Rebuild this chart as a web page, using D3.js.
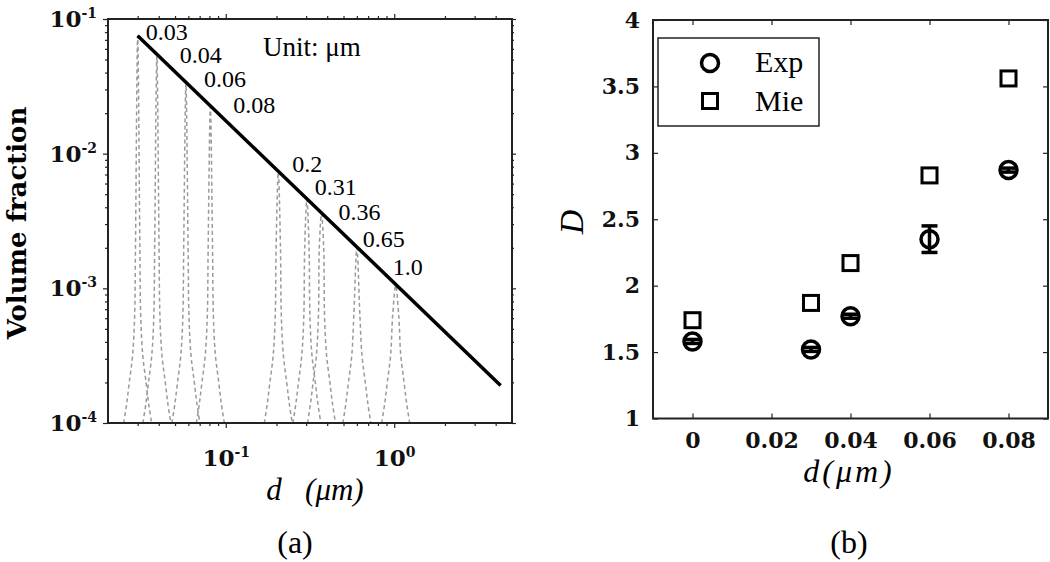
<!DOCTYPE html>
<html><head><meta charset="utf-8">
<script src="https://cdn.jsdelivr.net/npm/d3@7"></script>
<style>body{margin:0;background:#fff}svg{display:block}</style>
</head><body>
<svg id="c" width="1050" height="562"></svg>
<script>
// ---------- data: panel (a)
const peakCenters = [0.030, 0.039, 0.058, 0.081, 0.205, 0.303, 0.37, 0.60, 1.02];
const peakValues  = [0.075, 0.053, 0.033, 0.0223, 0.0073, 0.0046, 0.0036, 0.0020, 0.00105];
const peakLabels  = ["0.03","0.04","0.06","0.08","0.2","0.31","0.36","0.65","1.0"];
const profileValues = [1e-4, 1.4e-4, 2e-4, 3.2e-4, 6.3e-4, 2e-3, 1e-1];
const profileHalfWidths = [0.083, 0.065, 0.05, 0.03, 0.018, 0.013, 0.009]; // in decades of d
const lineD = [0.03, 4.28];
const lineV = [0.075, 0.00019];
const xMajorA = [0.1, 1];
const xMajorExpA = ["-1", "0"];
const yMajorA = [1e-4, 1e-3, 1e-2, 1e-1];
const yMajorExpA = ["-4", "-3", "-2", "-1"];
// ---------- data: panel (b)
const dB = [0, 0.03, 0.04, 0.06, 0.08];
const expB = [1.58, 1.52, 1.77, 2.35, 2.87];
const expErrB = [0.015, 0.015, 0.015, 0.10, 0.015];
const mieB = [1.74, 1.87, 2.17, 2.83, 3.56];
const xTicksB = [0, 0.02, 0.04, 0.06, 0.08];
const xTickLabelsB = ["0", "0.02", "0.04", "0.06", "0.08"];
const yTicksB = [1, 1.5, 2, 2.5, 3, 3.5, 4];
const yTickLabelsB = ["1", "1.5", "2", "2.5", "3", "3.5", "4"];
const legendNames = ["Exp", "Mie"];

// ---------- layout (label nudges in px, relative to peak top)
const labelNudge = [[8,4],[23,7],[18,3],[23,6],[14,0],[8,-4],[17,7],[6,-1],[-3,-10]];

const svg = d3.select("#c");
const BOLD = "'DejaVu Serif', serif";
const SERIF = "'Liberation Serif', 'Times New Roman', serif";

// ================= panel (a)
const xA = d3.scaleLog().domain([0.02, 5]).range([108, 512]);
const yA = d3.scaleLog().domain([1e-4, 1e-1]).range([423, 19]);
const gA = svg.append("g");

// peaks
const peakLine = d3.line().x(d => xA(d[0])).y(d => yA(d[1])).curve(d3.curveCatmullRom.alpha(0.5));
peakCenters.forEach((c, i) => {
  const v = peakValues[i];
  const lv = profileValues.map((pv, j) => ({pv, hw: profileHalfWidths[j]})).filter(o => o.pv < v * 0.8);
  const left = lv.map(o => [c * Math.pow(10, -o.hw), o.pv]);
  const right = lv.slice().reverse().map(o => [c * Math.pow(10, o.hw), o.pv]);
  gA.append("path").attr("d", peakLine([...left, [c, v], ...right]))
    .attr("fill", "none").attr("stroke", "#9a9a9a").attr("stroke-width", 1.5)
    .attr("stroke-dasharray", "4,3");
});

// black power-law line
gA.append("path").attr("d", d3.line().x((d, i) => xA(d)).y((d, i) => yA(lineV[i]))(lineD))
  .attr("stroke", "#000").attr("stroke-width", 3.5).attr("fill", "none");

// labels
peakLabels.forEach((t, i) => {
  gA.append("text").attr("x", xA(peakCenters[i]) + labelNudge[i][0])
    .attr("y", yA(peakValues[i]) + labelNudge[i][1])
    .attr("font-family", SERIF).attr("font-size", 24).text(t);
});
gA.append("text").attr("x", 263).attr("y", 56).attr("font-family", SERIF)
  .attr("font-size", 27).text("Unit: μm");

// axes (a)
const minorXA = xA.ticks().filter(t => !xMajorA.some(m => Math.abs(m - t) < 1e-9) && t > 0.0201 && t < 4.99);
const minorYA = yA.ticks().filter(t => !yMajorA.some(m => Math.abs(m - t) / m < 1e-6));
function styleAxis(g) { g.select(".domain").remove(); g.selectAll("line").attr("stroke", "#222").attr("stroke-width", 1.2); }

const bx = gA.append("g").attr("transform", "translate(0,423)")
  .call(d3.axisBottom(xA).tickValues(xMajorA).tickSize(5).tickSizeOuter(0).tickPadding(22).tickFormat(() => ""));
styleAxis(bx);
bx.selectAll("text").each(function(d, i) {
  const t = d3.select(this).attr("font-family", BOLD).attr("font-weight", "bold").attr("font-size", 23).attr("fill", "#111");
  t.append("tspan").text("10");
  t.append("tspan").attr("dy", -9).attr("font-size", 14).text(xMajorExpA[i]);
});
styleAxis(gA.append("g").attr("transform", "translate(0,423)").call(d3.axisBottom(xA).tickValues(minorXA).tickSize(3).tickSizeOuter(0).tickFormat("")));
styleAxis(gA.append("g").attr("transform", "translate(0,19)").call(d3.axisTop(xA).tickValues(xMajorA).tickSize(5).tickSizeOuter(0).tickFormat("")));
styleAxis(gA.append("g").attr("transform", "translate(0,19)").call(d3.axisTop(xA).tickValues(minorXA).tickSize(3).tickSizeOuter(0).tickFormat("")));

const ly = gA.append("g").attr("transform", "translate(108,0)")
  .call(d3.axisLeft(yA).tickValues(yMajorA).tickSize(5).tickSizeOuter(0).tickPadding(6).tickFormat(() => ""));
styleAxis(ly);
ly.selectAll("text").each(function(d, i) {
  const t = d3.select(this).attr("font-family", BOLD).attr("font-weight", "bold").attr("font-size", 23).attr("fill", "#111");
  t.append("tspan").text("10");
  t.append("tspan").attr("dy", -9).attr("font-size", 14).text(yMajorExpA[i]);
});
styleAxis(gA.append("g").attr("transform", "translate(108,0)").call(d3.axisLeft(yA).tickValues(minorYA).tickSize(3).tickSizeOuter(0).tickFormat("")));
styleAxis(gA.append("g").attr("transform", "translate(512,0)").call(d3.axisRight(yA).tickValues(yMajorA).tickSize(4).tickSizeOuter(0).tickFormat("")));
styleAxis(gA.append("g").attr("transform", "translate(512,0)").call(d3.axisRight(yA).tickValues(minorYA).tickSize(2).tickSizeOuter(0).tickFormat("")));

gA.append("rect").attr("x", 108).attr("y", 19).attr("width", 404).attr("height", 404)
  .attr("fill", "none").attr("stroke", "#222").attr("stroke-width", 2);

gA.append("text").attr("transform", "translate(26,223) rotate(-90)").attr("text-anchor", "middle")
  .attr("font-family", BOLD).attr("font-weight", "bold").attr("font-size", 26).text("Volume fraction");
gA.append("text").attr("x", 315).attr("y", 500).attr("text-anchor", "middle")
  .attr("font-family", SERIF).attr("font-style", "italic").attr("font-size", 31)
  .text("d\u00a0\u00a0\u00a0(μm)");
gA.append("text").attr("x", 295).attr("y", 553).attr("text-anchor", "middle")
  .attr("font-family", SERIF).attr("font-size", 32).text("(a)");

// ================= panel (b)
const xB = d3.scaleLinear().domain([-0.01, 0.09]).range([653, 1048]);
const yB = d3.scaleLinear().domain([1, 4]).range([418.5, 20]);
const gB = svg.append("g");

const bxB = gB.append("g").attr("transform", "translate(0,418.5)")
  .call(d3.axisBottom(xB).tickValues(xTicksB).tickSize(-5).tickSizeOuter(0).tickPadding(14).tickFormat((d, i) => xTickLabelsB[i]));
styleAxis(bxB);
bxB.selectAll("text").attr("font-family", BOLD).attr("font-weight", "bold").attr("font-size", 22).attr("fill", "#111");
styleAxis(gB.append("g").attr("transform", "translate(0,20)").call(d3.axisTop(xB).tickValues(xTicksB).tickSize(-5).tickSizeOuter(0).tickFormat("")));
const lyB = gB.append("g").attr("transform", "translate(653,0)")
  .call(d3.axisLeft(yB).tickValues(yTicksB).tickSize(-5).tickSizeOuter(0).tickPadding(13).tickFormat((d, i) => yTickLabelsB[i]));
styleAxis(lyB);
lyB.selectAll("text").attr("font-family", BOLD).attr("font-weight", "bold").attr("font-size", 22).attr("fill", "#111");
styleAxis(gB.append("g").attr("transform", "translate(1048,0)").call(d3.axisRight(yB).tickValues(yTicksB).tickSize(-5).tickSizeOuter(0).tickFormat("")));

gB.append("rect").attr("x", 653).attr("y", 20).attr("width", 395).attr("height", 398.5)
  .attr("fill", "none").attr("stroke", "#222").attr("stroke-width", 2);

// error bars + circles
dB.forEach((d, i) => {
  const x = xB(d), y0 = yB(expB[i] - expErrB[i]), y1 = yB(expB[i] + expErrB[i]);
  const eg = gB.append("g").attr("stroke", "#000").attr("stroke-width", 3.5);
  eg.append("line").attr("x1", x).attr("x2", x).attr("y1", y0).attr("y2", y1);
  eg.append("line").attr("x1", x - 8).attr("x2", x + 8).attr("y1", y0).attr("y2", y0);
  eg.append("line").attr("x1", x - 8).attr("x2", x + 8).attr("y1", y1).attr("y2", y1);
});
gB.selectAll("circle.exp").data(dB).join("circle").attr("class", "exp")
  .attr("cx", d => xB(d)).attr("cy", (d, i) => yB(expB[i])).attr("r", 8.5)
  .attr("fill", "none").attr("stroke", "#000").attr("stroke-width", 3.5);
gB.selectAll("rect.mie").data(dB).join("rect").attr("class", "mie")
  .attr("x", d => xB(d) - 7.5).attr("y", (d, i) => yB(mieB[i]) - 7.5).attr("width", 15).attr("height", 15)
  .attr("fill", "none").attr("stroke", "#000").attr("stroke-width", 3);

// legend
gB.append("rect").attr("x", 658).attr("y", 38).attr("width", 161).attr("height", 88)
  .attr("fill", "#fff").attr("stroke", "#222").attr("stroke-width", 1.5);
gB.append("circle").attr("cx", 710).attr("cy", 63).attr("r", 8.5).attr("fill", "none").attr("stroke", "#000").attr("stroke-width", 3.5);
gB.append("rect").attr("x", 702.5).attr("y", 93.5).attr("width", 15).attr("height", 15).attr("fill", "none").attr("stroke", "#000").attr("stroke-width", 3);
legendNames.forEach((n, i) => {
  gB.append("text").attr("x", 755).attr("y", i === 0 ? 72 : 111).attr("font-family", SERIF)
    .attr("font-size", 30).text(n);
});

gB.append("text").attr("transform", "translate(583,222) rotate(-90)").attr("text-anchor", "middle")
  .attr("font-family", SERIF).attr("font-style", "italic").attr("font-size", 34).text("D");
gB.append("text").attr("x", 849).attr("y", 482).attr("text-anchor", "middle")
  .attr("font-family", SERIF).attr("font-style", "italic").attr("font-size", 32).attr("letter-spacing", 3).text("d(μm)");
gB.append("text").attr("x", 849).attr("y", 553).attr("text-anchor", "middle")
  .attr("font-family", SERIF).attr("font-size", 32).text("(b)");
</script>
</body></html>
